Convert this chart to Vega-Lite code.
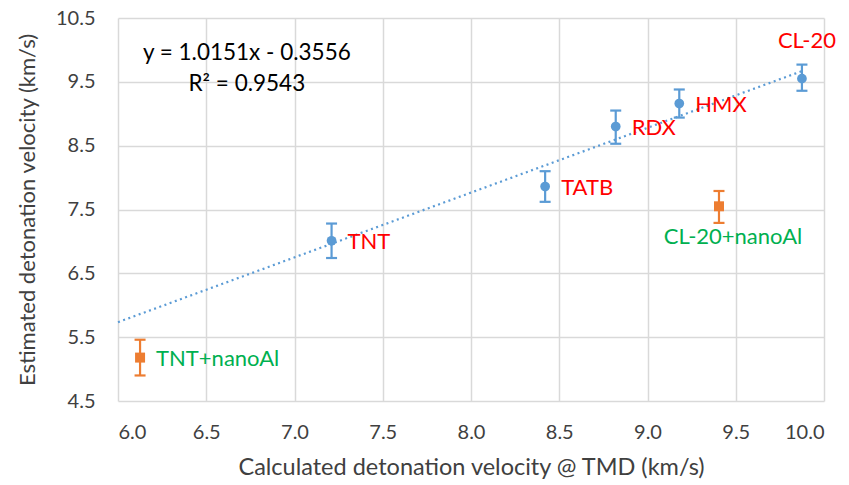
{
  "$schema": "https://vega.github.io/schema/vega-lite/v6.json",
  "width": 706,
  "height": 383,
  "autosize": {"type": "none"},
  "padding": {"left": 118, "top": 18, "right": 25, "bottom": 84},
  "background": "white",
  "config": {
    "view": {"stroke": null},
    "font": "Lato",
    "axis": {
      "gridColor": "#D9D9D9",
      "gridWidth": 1.5,
      "domain": false,
      "ticks": false,
      "labelFont": "Lato",
      "labelFontSize": 20,
      "labelColor": "#404040",
      "titleFont": "Lato",
      "titleFontSize": 22,
      "titleFontWeight": "normal",
      "titleColor": "#404040"
    }
  },
  "datasets": {
    "pts": [
      {"name": "TNT", "x": 7.21, "y": 7.01, "lo": 6.74, "hi": 7.28, "group": "pure", "pos": "right"},
      {"name": "TATB", "x": 8.42, "y": 7.86, "lo": 7.62, "hi": 8.10, "group": "pure", "pos": "right"},
      {"name": "RDX", "x": 8.82, "y": 8.80, "lo": 8.53, "hi": 9.05, "group": "pure", "pos": "right"},
      {"name": "HMX", "x": 9.18, "y": 9.16, "lo": 8.94, "hi": 9.38, "group": "pure", "pos": "right"},
      {"name": "CL-20", "x": 9.875, "y": 9.55, "lo": 9.36, "hi": 9.77, "group": "pure", "pos": "above"},
      {"name": "CL-20+nanoAl", "x": 9.405, "y": 7.55, "lo": 7.29, "hi": 7.79, "group": "nanoAl", "pos": "below"},
      {"name": "TNT+nanoAl", "x": 6.125, "y": 5.18, "lo": 4.90, "hi": 5.46, "group": "nanoAl", "pos": "right"}
    ],
    "trend": [
      {"x": 6.0, "y": 5.735},
      {"x": 9.875, "y": 9.668}
    ]
  },
  "encoding": {
    "x": {
      "field": "x", "type": "quantitative",
      "scale": {"domain": [6, 10], "nice": false, "zero": false},
      "axis": {"values": [6, 6.5, 7, 7.5, 8, 8.5, 9, 9.5, 10], "format": ".1f", "labelPadding": 21, "title": "Calculated detonation velocity @ TMD (km/s)", "titlePadding": 13, "titleFontSize": 23.5}
    },
    "y": {
      "field": "y", "type": "quantitative",
      "scale": {"domain": [4.5, 10.5], "nice": false, "zero": false},
      "axis": {"values": [4.5, 5.5, 6.5, 7.5, 8.5, 9.5, 10.5], "format": ".1f", "labelPadding": 23, "title": "Estimated detonation velocity (km/s)", "titlePadding": 16}
    }
  },
  "layer": [
    {
      "data": {"name": "trend"},
      "mark": {"type": "line", "color": "#5B9BD5", "strokeWidth": 2.2, "strokeDash": [2, 3.5]},
      "encoding": {}
    },
    {
      "data": {"name": "pts"},
      "mark": {"type": "rule", "strokeWidth": 2.2, "opacity": 1},
      "encoding": {
        "y": {"field": "lo", "type": "quantitative"},
        "y2": {"field": "hi"},
        "color": {"field": "group", "type": "nominal", "scale": {"domain": ["pure", "nanoAl"], "range": ["#5B9BD5", "#ED7D31"]}, "legend": null}
      }
    },
    {
      "data": {"name": "pts"},
      "mark": {"type": "tick", "orient": "horizontal", "size": 11, "thickness": 2.2, "opacity": 1},
      "encoding": {
        "y": {"field": "lo", "type": "quantitative"},
        "color": {"field": "group", "type": "nominal", "legend": null}
      }
    },
    {
      "data": {"name": "pts"},
      "mark": {"type": "tick", "orient": "horizontal", "size": 11, "thickness": 2.2, "opacity": 1},
      "encoding": {
        "y": {"field": "hi", "type": "quantitative"},
        "color": {"field": "group", "type": "nominal", "legend": null}
      }
    },
    {
      "data": {"name": "pts"},
      "transform": [{"filter": "datum.group === 'pure'"}],
      "mark": {"type": "point", "shape": "circle", "filled": true, "opacity": 1, "size": 95, "color": "#5B9BD5"}
    },
    {
      "data": {"name": "pts"},
      "transform": [{"filter": "datum.group === 'nanoAl'"}],
      "mark": {"type": "point", "shape": "square", "filled": true, "opacity": 1, "size": 100, "color": "#ED7D31"}
    },
    {
      "data": {"name": "pts"},
      "transform": [{"filter": "datum.pos === 'right' && datum.group === 'pure'"}],
      "mark": {"type": "text", "align": "left", "baseline": "middle", "dx": 16, "dy": 1, "fontSize": 22, "font": "Lato", "color": "#FF0000"},
      "encoding": {"text": {"field": "name"}}
    },
    {
      "data": {"name": "pts"},
      "transform": [{"filter": "datum.pos === 'right' && datum.group === 'nanoAl'"}],
      "mark": {"type": "text", "align": "left", "baseline": "middle", "dx": 16, "dy": 1, "fontSize": 22, "font": "Lato", "color": "#00B050"},
      "encoding": {"text": {"field": "name"}}
    },
    {
      "data": {"name": "pts"},
      "transform": [{"filter": "datum.pos === 'above'"}],
      "mark": {"type": "text", "align": "center", "baseline": "middle", "dx": 5, "dy": -38, "fontSize": 22, "font": "Lato", "color": "#FF0000"},
      "encoding": {"text": {"field": "name"}}
    },
    {
      "data": {"name": "pts"},
      "transform": [{"filter": "datum.pos === 'below'"}],
      "mark": {"type": "text", "align": "center", "baseline": "middle", "dx": 14, "dy": 31, "fontSize": 22, "font": "Lato", "color": "#00B050"},
      "encoding": {"text": {"field": "name"}}
    },
    {
      "data": {"values": [
        {"x": 6.73, "y": 9.95, "t": "y = 1.0151x - 0.3556"},
        {"x": 6.73, "y": 9.47, "t": "R² = 0.9543"}
      ]},
      "mark": {"type": "text", "align": "center", "baseline": "middle", "fontSize": 22.5, "font": "Lato", "color": "#000000"},
      "encoding": {"text": {"field": "t"}}
    }
  ]
}
